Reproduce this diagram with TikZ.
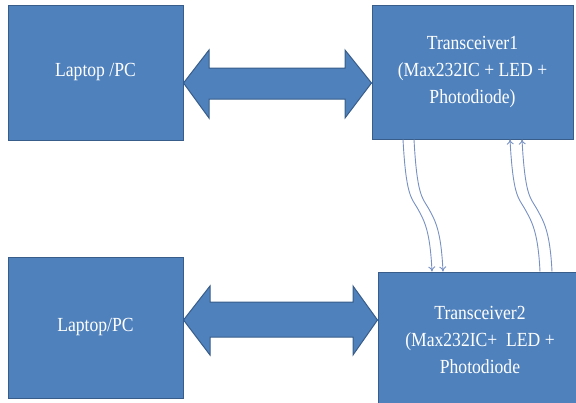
\documentclass[tikz,border=0pt]{standalone}
\usepackage{fontspec}
\setmainfont{Liberation Serif}
\usetikzlibrary{arrows.meta,calc}
\definecolor{boxblue}{RGB}{79,129,189}
\definecolor{boxedge}{RGB}{56,93,138}
\definecolor{linkblue}{RGB}{120,145,195}
\tikzset{
  blockbox/.style={draw=boxedge, line width=1pt, fill=boxblue, text=white, align=center,
    inner sep=0pt, font=\fontsize{20}{27}\selectfont},
  bigarrow/.style={draw=boxedge, line width=1pt, fill=boxblue},
  link/.style={draw=linkblue, line width=0.9pt, -{To[length=5pt,width=7pt]}},
}
\newcommand{\sq}[1]{\scalebox{0.88}[1]{#1}}
\begin{document}
\begin{tikzpicture}[x=1pt,y=-1pt]
\useasboundingbox (0,0) rectangle (576,402);
\node[blockbox, minimum width=175pt, minimum height=135pt] (pc1) at (95.5,72.5) {\sq{Laptop /PC}};
\node[blockbox, minimum width=201pt, minimum height=134pt] (tr1) at (472.5,72) {\sq{Transceiver1}\\\sq{(Max232IC + LED +}\\\sq{Photodiode)}};
\node[blockbox, minimum width=175pt, minimum height=141pt] (pc2) at (95.5,327.5) {\sq{Laptop/PC}};
\node[blockbox, minimum width=216pt, minimum height=134pt] (tr2) at (486,339) {};
\node[text=white, align=center, font=\fontsize{20}{27}\selectfont, inner sep=0pt] (tr2text) at (480,340) {\sq{Transceiver2}\\\sq{(Max232IC+ \ LED +}\\\sq{Photodiode}};
% block arrows
\draw[bigarrow] (pc1.east |- 0,83) -- (209,50) -- (209,68) -- (345,68) -- (345,50) -- (tr1.west |- 0,83)
  -- (345,118) -- (345,99) -- (209,99) -- (209,118) -- cycle;
\draw[bigarrow] (pc2.east |- 0,320) -- (210,286) -- (210,302) -- (353,302) -- (353,286) -- (tr2.west |- 0,320)
  -- (353,355) -- (353,337) -- (210,337) -- (210,355) -- cycle;
% thin link arrows
\coordinate (d1s) at (tr1.south -| 403,0);
\coordinate (d1e) at (tr2.north -| 432,0);
\coordinate (d2s) at (tr1.south -| 414,0);
\coordinate (d2e) at (tr2.north -| 443,0);
\coordinate (u1s) at (tr2.north -| 540,0);
\coordinate (u1e) at (tr1.south -| 510,0);
\coordinate (u2s) at (tr2.north -| 552,0);
\coordinate (u2e) at (tr1.south -| 522,0);
\draw[link] (d1s) .. controls ($(d1s)+(3,55)$) and ($(d1s)+(8,58)$) .. ($(d1s)+(14,68)$)
  .. controls ($(d1s)+(22,82)$) and ($(d1e)+(-2,-40)$) .. (d1e);
\draw[link] (d2s) .. controls ($(d2s)+(3,55)$) and ($(d2s)+(8,58)$) .. ($(d2s)+(14,68)$)
  .. controls ($(d2s)+(22,82)$) and ($(d2e)+(-2,-40)$) .. (d2e);
\draw[link] (u1s) .. controls ($(u1s)+(-2,-40)$) and ($(u1e)+(22,82)$) .. ($(u1e)+(14,68)$)
  .. controls ($(u1e)+(8,58)$) and ($(u1e)+(3,55)$) .. (u1e);
\draw[link] (u2s) .. controls ($(u2s)+(-2,-40)$) and ($(u2e)+(22,82)$) .. ($(u2e)+(14,68)$)
  .. controls ($(u2e)+(8,58)$) and ($(u2e)+(3,55)$) .. (u2e);
\end{tikzpicture}
\end{document}
